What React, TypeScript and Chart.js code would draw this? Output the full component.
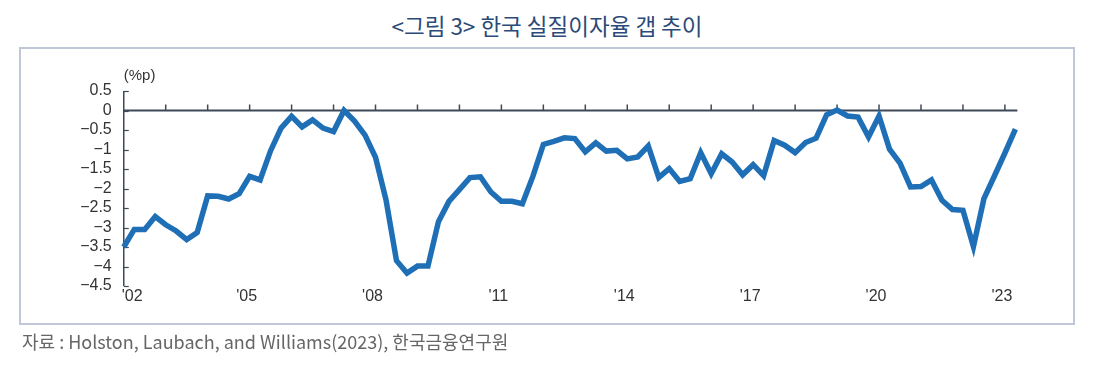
import React, { useEffect, useRef } from 'react';
import { Chart, registerables } from 'chart.js';

Chart.register(...registerables);

// Quarterly real interest rate gap (%p), 2002 Q1 – 2023 Q2
const startYear = 2002;
const quarterNames = ['Q1', 'Q2', 'Q3', 'Q4'];
const realRateGap = [
  -3.5, -3.05, -3.05, -2.72, -2.93, -3.09, -3.31, -3.13,
  -2.19, -2.2, -2.27, -2.13, -1.69, -1.78, -1.03, -0.45,
  -0.15, -0.42, -0.24, -0.45, -0.54, 0.0, -0.27, -0.63,
  -1.2, -2.29, -3.85, -4.17, -3.99, -3.99, -2.85, -2.33,
  -2.03, -1.72, -1.7, -2.09, -2.33, -2.33, -2.39, -1.69,
  -0.87, -0.79, -0.7, -0.72, -1.06, -0.83, -1.04, -1.02,
  -1.24, -1.19, -0.91, -1.72, -1.49, -1.82, -1.75, -1.08,
  -1.62, -1.11, -1.32, -1.65, -1.39, -1.67, -0.77, -0.89,
  -1.08, -0.82, -0.71, -0.11, 0.01, -0.14, -0.17, -0.68,
  -0.14, -0.99, -1.35, -1.96, -1.95, -1.78, -2.3, -2.54,
  -2.56, -3.49, -2.26, -1.68, -1.09, -0.48,
];
const quarterLabels = realRateGap.map(
  (_, i) => `${startYear + Math.floor(i / 4)} ${quarterNames[i % 4]}`
);
const xTickYears = [2002, 2005, 2008, 2011, 2014, 2017, 2020, 2023];
const xTickLabels = ["'02", "'05", "'08", "'11", "'14", "'17", "'20", "'23"];
const yMin = -4.5;
const yMax = 0.5;
const yStep = 0.5;
const unitLabel = '(%p)';
const titleText = '<그림 3> 한국 실질이자율 갭 추이';
const sourceText = '자료 : Holston, Laubach, and Williams(2023), 한국금융연구원';

const AXIS_COLOR = '#3e4958';
const LINE_COLOR = '#1f6fb6';
const TEXT_COLOR = '#333333';
const TICK_FONT = '16px "Liberation Sans", Arial, sans-serif';

const axisMarksPlugin = {
  id: 'axisMarks',
  beforeDatasetsDraw(chart: any) {
    const { ctx, chartArea, scales } = chart;
    const x = scales.x;
    const y = scales.y;
    ctx.save();
    ctx.strokeStyle = AXIS_COLOR;
    // y axis line
    ctx.lineWidth = 1.5;
    ctx.beginPath();
    ctx.moveTo(chartArea.left, chartArea.top);
    ctx.lineTo(chartArea.left, chartArea.bottom);
    ctx.stroke();
    // y ticks (inward)
    ctx.lineWidth = 1.2;
    y.ticks.forEach((t: any) => {
      const py = Math.round(y.getPixelForValue(t.value)) + 0.5;
      ctx.beginPath();
      ctx.moveTo(chartArea.left, py);
      ctx.lineTo(chartArea.left + 5, py);
      ctx.stroke();
    });
    // zero line
    const y0 = y.getPixelForValue(0);
    ctx.lineWidth = 2;
    ctx.beginPath();
    ctx.moveTo(chartArea.left, y0);
    ctx.lineTo(chartArea.right + 2, y0);
    ctx.stroke();
    // year ticks on zero line
    ctx.lineWidth = 1.5;
    quarterLabels.forEach((_, i) => {
      if (i % 4 !== 0 || i === 0) return;
      const px = x.getPixelForValue(i);
      ctx.beginPath();
      ctx.moveTo(px, y0);
      ctx.lineTo(px, y0 - 6);
      ctx.stroke();
    });
    // unit label
    ctx.fillStyle = TEXT_COLOR;
    ctx.font = '15px "Liberation Sans", Arial, sans-serif';
    ctx.textAlign = 'left';
    ctx.textBaseline = 'middle';
    ctx.fillText(unitLabel, chartArea.left, chartArea.top - 15);
    // x labels (every third year)
    ctx.font = TICK_FONT;
    ctx.textBaseline = 'top';
    xTickYears.forEach((yr, k) => {
      const idx = (yr - startYear) * 4;
      const px = x.getPixelForValue(idx);
      if (k === 0) {
        ctx.textAlign = 'left';
        ctx.fillText(xTickLabels[k], px - 2, chartArea.bottom + 3);
      } else {
        ctx.textAlign = 'center';
        ctx.fillText(xTickLabels[k], px - 3, chartArea.bottom + 3);
      }
    });
    ctx.restore();
  },
};

function formatY(v: number): string {
  const r = Math.round(v * 10) / 10;
  if (r === 0) return '0';
  const s = Math.abs(r).toString();
  return r < 0 ? '\u2212' + s : s;
}

export default function App() {
  const canvasRef = useRef<HTMLCanvasElement | null>(null);

  useEffect(() => {
    if (!canvasRef.current) return;
    const chart = new Chart(canvasRef.current, {
      type: 'line',
      data: {
        labels: quarterLabels,
        datasets: [
          {
            data: realRateGap,
            borderColor: LINE_COLOR,
            borderWidth: 5.5,
            pointRadius: 0,
            tension: 0,
            borderJoinStyle: 'miter',
            borderCapStyle: 'butt',
            fill: false,
          },
        ],
      },
      options: {
        animation: false,
        responsive: false,
        devicePixelRatio: 1,
        clip: false,
        layout: { padding: { left: 0, right: 78.6, top: 91, bottom: 60 } },
        plugins: {
          legend: { display: false },
          tooltip: { enabled: false },
          title: { display: false },
        },
        scales: {
          x: {
            type: 'category',
            offset: false,
            grid: { display: false, drawTicks: false, tickLength: 0 },
            border: { display: false },
            ticks: { display: false },
            afterFit: (scale: any) => {
              scale.height = 20;
            },
          },
          y: {
            type: 'linear',
            min: yMin,
            max: yMax,
            grid: { display: false, drawTicks: false, tickLength: 0 },
            border: { display: false },
            ticks: {
              stepSize: yStep,
              autoSkip: false,
              padding: 12,
              color: TEXT_COLOR,
              font: { family: '"Liberation Sans", Arial, sans-serif', size: 16 },
              callback: (v: any) => formatY(Number(v)),
            },
            afterFit: (scale: any) => {
              scale.width = 123.75;
            },
          },
        },
      },
      plugins: [axisMarksPlugin],
    });
    return () => chart.destroy();
  }, []);

  return (
    <div style={{ position: 'absolute', left: 0, top: 0, width: 1094, height: 366, background: '#ffffff', overflow: 'hidden' }}>
      <div
        style={{
          position: 'absolute',
          left: 0,
          top: 12,
          width: 1094,
          textAlign: 'center',
          fontFamily: '"Noto Sans CJK KR", sans-serif',
          fontSize: 22.5,
          lineHeight: '26px',
          color: '#2c4a78',
        }}
      >
        {titleText}
      </div>
      <div
        style={{
          position: 'absolute',
          left: 19,
          top: 47,
          width: 1052,
          height: 274,
          border: '2px solid #bfc7d8',
        }}
      />
      <canvas
        ref={canvasRef}
        width={1094}
        height={366}
        style={{ position: 'absolute', left: 0, top: 0, width: 1094, height: 366 }}
      />
      <div
        style={{
          position: 'absolute',
          left: 22,
          top: 329,
          fontFamily: '"Noto Sans CJK KR", sans-serif',
          fontSize: 18,
          lineHeight: '24px',
          color: '#666666',
          whiteSpace: 'nowrap',
        }}
      >
        {sourceText}
      </div>
    </div>
  );
}
